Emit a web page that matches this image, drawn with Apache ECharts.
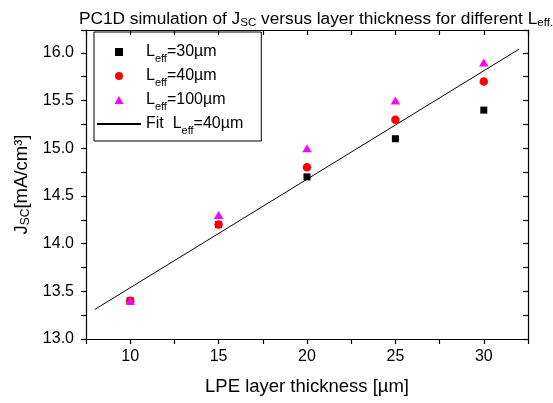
<!DOCTYPE html>
<html>
<head>
<meta charset="utf-8">
<script src="https://cdn.jsdelivr.net/npm/echarts@6/dist/echarts.min.js"></script>
<style>html,body{margin:0;padding:0;background:#fff}#c{width:553px;height:403px}</style>
</head>
<body>
<div id="c"></div>
<script>
// ---- data ----
var thickness = [10, 15, 20, 25, 30];
var jsc30 = [13.4, 14.2, 14.7, 15.1, 15.4];
var jsc40 = [13.4, 14.2, 14.8, 15.3, 15.7];
var jsc100 = [13.4, 14.3, 15.0, 15.5, 15.9];
var fitX = [8, 32];
var fitY = [13.31, 16.04];
var xTicks = [10, 15, 20, 25, 30];
var yTicks = [13.0, 13.5, 14.0, 14.5, 15.0, 15.5, 16.0];

function pairs(xs, ys) { return xs.map(function (x, i) { return [x, ys[i]]; }); }

var FONT = 'Liberation Sans, Arial, sans-serif';
var legendRich = {
  n: { fontSize: 16, fontFamily: FONT, color: '#000', verticalAlign: 'bottom' },
  s: { fontSize: 11, fontFamily: FONT, color: '#000', verticalAlign: 'bottom', padding: [0, 0, -4, 0] }
};
var legendText = {
  'L30': '{n|L}{s|eff}{n|=30µm}',
  'L40': '{n|L}{s|eff}{n|=40µm}',
  'L100': '{n|L}{s|eff}{n|=100µm}',
  'Fit': '{n|Fit  L}{s|eff}{n|=40µm}'
};

var chart = echarts.init(document.getElementById('c'), null, { renderer: 'canvas' });
var axisCommon = { lineStyle: { color: '#000', width: 1.2 } };
chart.setOption({
  animation: false,
  backgroundColor: '#fff',
  title: {
    text: '{n|PC1D simulation of J}{s|SC}{n| versus layer thickness for different L}{s|eff.}',
    left: 311, textAlign: 'center', top: 4,
    textStyle: {
      fontWeight: 'normal',
      rich: {
        n: { fontSize: 17.3, fontFamily: FONT, color: '#000', fontWeight: 'normal' },
        s: { fontSize: 11.5, fontFamily: FONT, color: '#000', fontWeight: 'normal', padding: [8, 0, 0, 0] }
      }
    }
  },
  grid: { left: 86, right: 25, top: 30, bottom: 64, containLabel: false },
  legend: {
    orient: 'vertical', left: 94, top: 32,
    padding: [12, 18, 5, 2],
    borderColor: '#000', borderWidth: 1,
    itemWidth: 44, itemHeight: 8, itemGap: 4,
    symbolKeepAspect: true,
    data: [
      { name: 'L30', icon: 'path://M0,0L1,0L1,1L0,1Z' },
      { name: 'L40', icon: 'circle' },
      { name: 'L100', icon: 'path://M0.5,0L1,0.9L0,0.9Z' },
      { name: 'Fit', itemStyle: { color: 'rgba(0,0,0,0)', opacity: 0, borderWidth: 0 } }
    ],
    formatter: function (name) { return legendText[name]; },
    textStyle: { rich: legendRich, fontSize: 16, fontFamily: FONT, color: '#000' }
  },
  xAxis: [{
    type: 'value', min: 7.5, max: 32.5, interval: 2.5,
    name: 'LPE layer thickness [µm]', nameLocation: 'middle', nameGap: 38,
    nameTextStyle: { fontSize: 18.5, fontFamily: FONT, color: '#000' },
    axisLine: axisCommon, splitLine: { show: false },
    axisTick: { show: true, inside: false, length: 5, lineStyle: { color: '#000', width: 1.2 } },
    axisLabel: {
      fontSize: 16, fontFamily: FONT, color: '#000', margin: 10,
      formatter: function (v) { return xTicks.indexOf(v) >= 0 ? String(v) : ''; }
    }
  }, {
    type: 'value', min: 7.5, max: 32.5, interval: 2.5, position: 'top',
    axisLine: axisCommon, splitLine: { show: false },
    axisTick: { show: true, inside: true, length: 5, lineStyle: { color: '#000', width: 1.2 } },
    axisLabel: { show: false }
  }],
  yAxis: [{
    type: 'value', min: 13, max: 16.24, interval: 0.25,
    name: '{n|J}{s|SC}{n|[mA/cm³]}', nameLocation: 'middle', nameGap: 46,
    nameTextStyle: {
      rich: {
        n: { fontSize: 18.5, fontFamily: FONT, color: '#000' },
        s: { fontSize: 12, fontFamily: FONT, color: '#000', padding: [9, 0, 0, 0] }
      }
    },
    axisLine: axisCommon, splitLine: { show: false },
    axisTick: { show: true, inside: false, length: 5, lineStyle: { color: '#000', width: 1.2 } },
    axisLabel: {
      fontSize: 16, fontFamily: FONT, color: '#000', margin: 12,
      formatter: function (v) {
        for (var i = 0; i < yTicks.length; i++) { if (Math.abs(yTicks[i] - v) < 1e-6) return yTicks[i].toFixed(1); }
        return '';
      }
    }
  }, {
    type: 'value', min: 13, max: 16.24, interval: 0.25, position: 'right',
    axisLine: axisCommon, splitLine: { show: false },
    axisTick: { show: true, inside: true, length: 5, lineStyle: { color: '#000', width: 1.2 } },
    axisLabel: { show: false }
  }],
  series: [
    { name: 'L30', type: 'scatter', symbol: 'rect', symbolSize: 7, itemStyle: { color: '#000', opacity: 1 }, data: pairs(thickness, jsc30), z: 3 },
    { name: 'L40', type: 'scatter', symbol: 'circle', symbolSize: 8.5, itemStyle: { color: '#ff0000', opacity: 1 }, data: pairs(thickness, jsc40), z: 4 },
    { name: 'L100', type: 'scatter', symbol: 'triangle', symbolSize: [9.5, 8], itemStyle: { color: '#ff00ff', opacity: 1 }, data: pairs(thickness, jsc100), z: 5 },
    { name: 'Fit', type: 'line', symbol: 'none', showSymbol: false, lineStyle: { color: '#000', width: 1 }, itemStyle: { color: '#000' }, data: pairs(fitX, fitY), z: 2 }
  ]
});
</script>
</body>
</html>
